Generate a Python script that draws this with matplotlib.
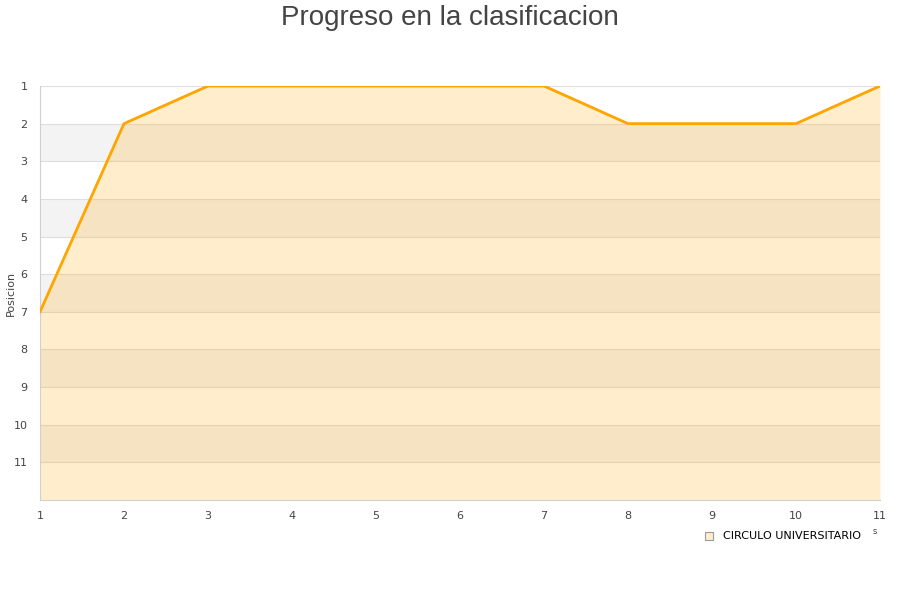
import numpy as np
import matplotlib
matplotlib.use("Agg")
import matplotlib.pyplot as plt

# data
jornadas = [1, 2, 3, 4, 5, 6, 7, 8, 9, 10, 11]
posicion = [7, 2, 1, 1, 1, 1, 1, 2, 2, 2, 1]
y_ticks = [1, 2, 3, 4, 5, 6, 7, 8, 9, 10, 11]
equipo = "CIRCULO UNIVERSITARIO"

fig = plt.figure(figsize=(9, 6), dpi=100)
ax = fig.add_axes([40/900, 1 - 500/600, 840/900, 414/600])

# alternating bands
for k in range(2, 12, 2):
	ax.axhspan(k, k + 1, color="#f3f3f3", zorder=0, lw=0)
for k in y_ticks:
	ax.axhline(k, color="#dedede", lw=0.8, zorder=1)

ax.fill_between(jornadas, posicion, 12, color="#ffa500", alpha=0.2, lw=0, zorder=2)
ax.plot(jornadas, posicion, color="#ffa500", lw=2, zorder=3)

ax.set_xlim(1, 11)
ax.set_ylim(12, 1)
ax.set_xticks(jornadas)
ax.set_yticks(y_ticks)
ax.tick_params(length=0, labelsize=8, colors="#444444", pad=8)
ax.tick_params(axis="y", pad=9)

for s in ["top", "right"]:
	ax.spines[s].set_visible(False)
for s in ["left", "bottom"]:
	ax.spines[s].set_color("#d0d0d0")

ax.set_ylabel("Posicion", fontsize=8, color="#444444")
ax.yaxis.set_label_coords(-24/840, 0.5)
fig.text(0.5, 1 - 18/600, "Progreso en la clasificacion", ha="center", va="center",
	fontsize=20, color="#444444", family="Liberation Sans")

# legend
fig.patches.append(plt.Rectangle((705/900, 1 - 540/600), 8/900, 8/600,
	transform=fig.transFigure, facecolor="#ffedcc", edgecolor="#999999", lw=0.8))
fig.text(723/900, 1 - 536/600, equipo, fontsize=8, color="#000000", va="center")
fig.text(873/900, 1 - 532/600, "s", fontsize=6, color="#444444", va="center")

fig.savefig("out.png", dpi=100)
